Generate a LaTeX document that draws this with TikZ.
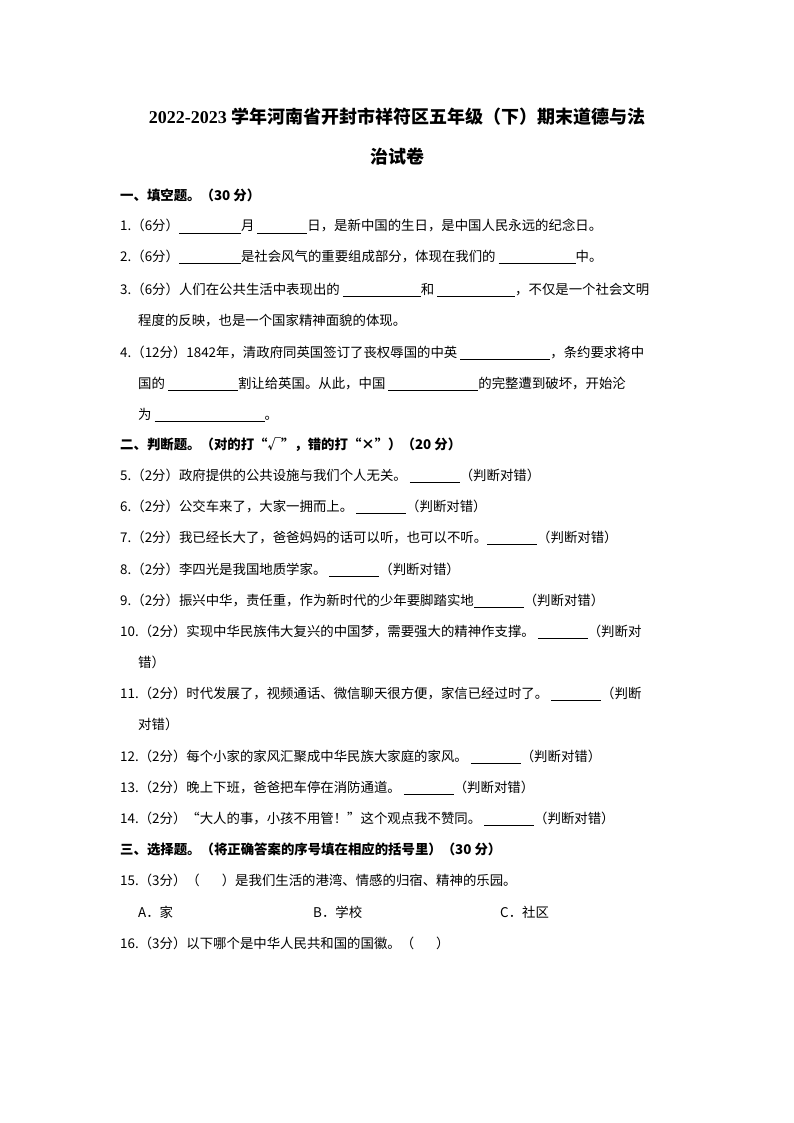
\documentclass[tikz,border=0pt]{standalone}
\usepackage{fontspec}
\setmainfont{Noto Sans CJK SC}
\newfontfamily\serifnum{Liberation Serif}
\newcommand{\blk}[1]{\rule[-2.5pt]{#1pt}{0.6pt}}
\begin{document}
\begin{tikzpicture}[x=1pt,y=1pt,
  tx/.style={anchor=base west,inner sep=0pt,font=\fontsize{13.4}{16}\selectfont},
  hd/.style={anchor=base west,inner sep=0pt,font=\fontsize{13.4}{16}\selectfont\bfseries},
  ttl/.style={anchor=base,inner sep=0pt,font=\fontsize{18}{22}\selectfont\bfseries}]
\useasboundingbox (0,0) rectangle (794,-1123);
\node[ttl] (t1) at (397,-124) {{\serifnum\bfseries 2022-2023} 学年河南省开封市祥符区五年级（下）期末道德与法};
\node[ttl] (t2) at (397,-164) {治试卷};
\node[hd] (s1) at (120,-201) {一、填空题。（30 分）};
\node[tx] (q1) at (120,-231) {1.（6分）\blk{62}月 \blk{50}日，是新中国的生日，是中国人民永远的纪念日。};
\node[tx] (q2) at (120,-261) {2.（6分）\blk{62}是社会风气的重要组成部分，体现在我们的 \blk{77}中。};
\node[tx] (q3) at (120,-294) {3.（6分）人们在公共生活中表现出的 \blk{78}和 \blk{78}，不仅是一个社会文明};
\node[tx] (q3b) at (138,-325) {程度的反映，也是一个国家精神面貌的体现。};
\node[tx] (q4) at (120,-357) {4.（12分）1842年，清政府同英国签订了丧权辱国的中英 \blk{90}，条约要求将中};
\node[tx] (q4b) at (138,-388) {国的 \blk{70}割让给英国。从此，中国 \blk{90}的完整遭到破坏，开始沦};
\node[tx] (q4c) at (138,-419) {为 \blk{110}。};
\node[hd] (s2) at (120,-449) {二、判断题。（对的打“√”，错的打“×”）（20 分）};
\node[tx] (q5) at (120,-480) {5.（2分）政府提供的公共设施与我们个人无关。 \blk{50}（判断对错）};
\node[tx] (q6) at (120,-511) {6.（2分）公交车来了，大家一拥而上。 \blk{50}（判断对错）};
\node[tx] (q7) at (120,-542) {7.（2分）我已经长大了，爸爸妈妈的话可以听，也可以不听。\blk{50}（判断对错）};
\node[tx] (q8) at (120,-574) {8.（2分）李四光是我国地质学家。 \blk{50}（判断对错）};
\node[tx] (q9) at (120,-605) {9.（2分）振兴中华，责任重，作为新时代的少年要脚踏实地\blk{50}（判断对错）};
\node[tx] (q10) at (120,-636) {10.（2分）实现中华民族伟大复兴的中国梦，需要强大的精神作支撑。 \blk{50}（判断对};
\node[tx] (q10b) at (138,-667) {错）};
\node[tx] (q11) at (120,-698) {11.（2分）时代发展了，视频通话、微信聊天很方便，家信已经过时了。 \blk{50}（判断};
\node[tx] (q11b) at (138,-729) {对错）};
\node[tx] (q12) at (120,-761) {12.（2分）每个小家的家风汇聚成中华民族大家庭的家风。 \blk{50}（判断对错）};
\node[tx] (q13) at (120,-792) {13.（2分）晚上下班，爸爸把车停在消防通道。 \blk{50}（判断对错）};
\node[tx] (q14) at (120,-823) {14.（2分）“大人的事，小孩不用管！”这个观点我不赞同。 \blk{50}（判断对错）};
\node[hd] (s3) at (120,-854) {三、选择题。（将正确答案的序号填在相应的括号里）（30 分）};
\node[tx] (q15) at (120,-885) {15.（3分）（\hspace{22pt}）是我们生活的港湾、情感的归宿、精神的乐园。};
\node[tx] (oa) at (138,-917) {A．家};
\node[tx] (ob) at (313,-917) {B．学校};
\node[tx] (oc) at (500,-917) {C．社区};
\node[tx] (q16) at (120,-948) {16.（3分）以下哪个是中华人民共和国的国徽。（\hspace{22pt}）};
\end{tikzpicture}
\end{document}
